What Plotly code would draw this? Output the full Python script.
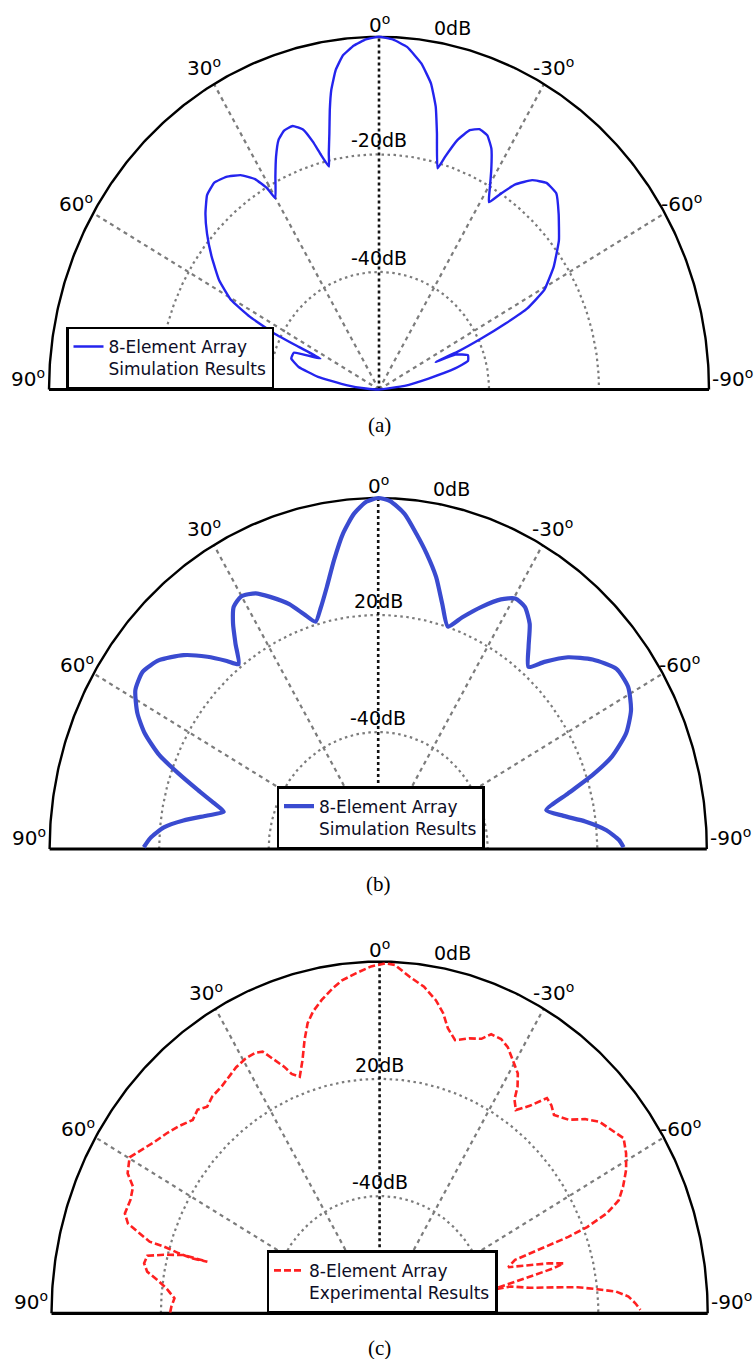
import numpy as np
import plotly.graph_objects as go

W, H = 755, 1359
DB_MIN, DB_MAX = -60, 0

# ---------------- data (angle in degrees, 0 = broadside, +90 = left) ----------------
theta_a = [90, 86, 82.8, 79, 75.3, 71.7, 68, 63.7, 63.6, 63.4, 62.2, 60.5, 57.4, 53.4, 49.7,
           46.5, 43.4, 40.4, 37.5, 34.6, 32.2, 30.7, 30.1, 27.5, 25.3, 23.3, 21.4, 19.3, 17.3,
           15.9, 14.9, 13.5, 12.8, 11.7, 10.65, 9.66, 8.25, 6.6, 4.45, 2.3, 0,
           -2.4, -5, -7.9, -10.3, -12.1, -13.6, -15.8, -16.9, -18.6, -20.5, -22.4, -24.5,
           -26.5, -28.7, -30.7, -32.1, -33.6, -35.4, -38, -40.9, -44, -47.5, -52.2, -56.7,
           -60.6, -62.9, -64, -65, -65.8, -65.6, -66.8, -70.2, -73.3, -75.5, -78.3, -82.3, -90]
db_a = [-60, -57.6, -54, -48.7, -44.9, -43.2, -43.3, -48.1, -43.7, -38.7, -33.5, -29.1, -25.5,
        -22.1, -19.0, -16.5, -14.5, -13.8, -14.4, -15.7, -17.7, -20.2, -22.4, -19.2, -16.2,
        -13.8, -12.7, -12.5, -13.7, -16.2, -18.5, -21.0, -18.8, -15.5, -11.6, -8.3, -5.1,
        -2.8, -1.3, -0.4, 0,
        -0.4, -1.5, -4.0, -7.1, -10.8, -15.2, -20.9, -18.6, -15.2, -12.9, -12.1, -12.5,
        -14.2, -17.5, -20.6, -22.4, -20.0, -17.2, -14.8, -13.5, -13.6, -15.7, -18.6, -22.0,
        -25.5, -29.7, -34.4, -39.4, -44.3, -48.7, -44.9, -42.8, -43.1, -45.7, -50.8, -55.3, -60]

theta_b = [89.6, 87.5, 84.6, 82.2, 79.6, 77.3, 75.4, 73, 70.5, 68.1, 65.1, 62.2, 58.5, 54.8,
           51.1, 47, 43.5, 40.7, 38.9, 36.6, 34.5, 32.5, 30.1, 27.1, 24.6, 21.2, 18.7, 16.4,
           14.4, 11.8, 9.3, 6.8, 4.4, 2.1, 0,
           -2.1, -4.8, -7.4, -9.9, -12.8, -15.6, -18.5, -21.2, -24.5, -27.7, -30.3, -32.9,
           -35.7, -38.5, -41.4, -43.5, -46.6, -50.4, -54.7, -58.7, -62.8, -66.4, -69.7,
           -72.1, -74.7, -77.8, -80.5, -82.9, -85.6, -88, -89.6]
db_b = [-17.2, -18.3, -20.7, -24.1, -28.3, -31.1, -29.1, -25.6, -21.3, -16.9, -13.0, -10.3,
        -8.0, -7.4, -8.6, -11.4, -14.7, -17.6, -19.4, -16.3, -13.2, -10.9, -10.1, -10.9,
        -12.6, -15.1, -17.6, -19.5, -17.6, -14.2, -10.0, -5.7, -2.5, -0.6, 0,
        -0.5, -2.5, -5.7, -8.7, -12.3, -16.5, -19.9, -17.5, -14.5, -11.8, -10.4, -10.7,
        -12.6, -15.9, -18.5, -15.9, -12.3, -9.2, -6.7, -6.6, -8.1, -10.6, -14.5, -18.9,
        -24.1, -28.6, -25.7, -21.9, -18.2, -16.0, -15.2]

theta_c = [89.8, 88.3, 86.1, 83.8, 82, 80.5, 78.8, 77, 75.8, 74.5, 74.4, 74.7, 74.4, 73.9,
           73.8, 72.7, 71.6, 69.9, 67, 64.4, 62.6, 59.8, 57.3, 54.6, 51.8, 49.1, 46, 43.8,
           41.8, 39.6, 36.7, 34.3, 32, 29.4, 27.1, 25.6, 24, 22.5, 21.5, 19.9, 18.1, 16.4,
           14.9, 13.3, 11.2, 8.8, 6.9, 4.2, 1.5, -1,
           -2.7, -5.4, -8.3, -10.9, -12.8, -14.4, -16.5, -19.3, -21.7, -23.2, -25.4, -27.3,
           -29.4, -31.7, -33.1, -34.1, -35.7, -37.8, -39.8, -41.5, -43.3, -46.3, -48.6,
           -50.9, -53.6, -56.2, -58.8, -61.5, -64.1, -66.2, -67.7, -68.8, -69.3, -69.4,
           -69.5, -69.8, -71.5, -73.3, -74.6, -75.8, -76.4, -76.7, -77.3, -78.1, -79,
           -79.2, -81, -82.1, -83, -84.1, -85.1, -86.4, -87.9, -89.3]
db_c = [-21.7, -21.9, -22.4, -20.8, -18.9, -16.9, -16.1, -16.4, -19.3, -22.8, -27.3, -24.6,
        -21.8, -19.0, -16.2, -14.1, -11.5, -10.4, -10.5, -10.0, -8.1, -7.1, -8.4, -9.5,
        -10.4, -11.3, -12.5, -11.9, -12.7, -12.0, -11.7, -11.1, -10.5, -10.1, -10.1, -10.5,
        -12.7, -14.5, -16.1, -17.1, -14.6, -11.4, -8.8, -7.1, -5.5, -3.9, -2.8, -1.8, -0.8,
        -0.3,
        -0.5, -2.3, -3.7, -5.6, -7.5, -9.8, -11.4, -10.3, -9.6, -8.2, -8.2, -8.9, -10.4,
        -11.9, -13.8, -16.0, -17.3, -15.2, -12.2, -12.6, -13.5, -12.2, -9.9, -8.2, -7.3,
        -6.3, -7.3, -8.7, -10.5, -12.2, -15.1, -19.3, -23.1, -26.9, -30.7, -33.6, -35.2,
        -31.4, -27.9, -25.3, -27.2, -29.1, -32.8, -36.5, -39.2, -35.6, -32.2, -27.8, -23.5,
        -20.0, -16.6, -14.4, -13.2, -12.3]

ring_db = [-20, -40]
ray_deg = [60, 30, -30, -60]
center_ray_deg = [0]
tick_deg = [90, 60, 30, 0, -30, -60, -90]
tick_text = ["90<sup>o</sup>", "60<sup>o</sup>", "30<sup>o</sup>", "0<sup>o</sup>",
             "-30<sup>o</sup>", "-60<sup>o</sup>", "-90<sup>o</sup>"]
top_label = "0dB"
ring_labels = [["-20dB", "-40dB"], ["20dB", "-40dB"], ["20dB", "-40dB"]]
captions = ["(a)", "(b)", "(c)"]
names = ["8-Element Array<br>Simulation Results",
         "8-Element Array<br>Simulation Results",
         "8-Element Array<br>Experimental Results"]

# ---------------- helpers ----------------
def to_xy(theta, db):
    db = np.clip(np.asarray(db, float), DB_MIN, DB_MAX)
    rho = (db - DB_MIN) / (DB_MAX - DB_MIN)
    t = np.radians(np.asarray(theta, float))
    return -rho * np.sin(t), rho * np.cos(t)

# panel geometry in pixels (center x, baseline y, x radius, y radius, band)
panels = [
    dict(cx=379.0, base=389.5, rx=330.0, ry=352.7, top=0, bot=455),
    dict(cx=378.2, base=849.0, rx=328.6, ry=351.0, top=455, bot=915),
    dict(cx=379.6, base=1313.3, rx=328.1, ry=351.7, top=915, bot=H),
]

curves = [
    (theta_a, db_a, dict(color="#2424ee", width=2.4, shape="spline", smoothing=0.35)),
    (theta_b, db_b, dict(color="#3a4bd0", width=4.2, shape="spline", smoothing=0.6)),
    (theta_c, db_c, dict(color="#ff2020", width=2.6, dash="7px,3px")),
]
legend_pos = [
    dict(x=66 / W, xanchor="left"),
    dict(x=380.5 / W, xanchor="center"),
    dict(x=382 / W, xanchor="center"),
]

GRID = "#7c7c7c"
LABEL_FONT = "DejaVu Sans, Open Sans, sans-serif"

fig = go.Figure()
layout = dict(width=W, height=H, margin=dict(l=0, r=0, t=0, b=0),
              font=dict(family=LABEL_FONT, size=18, color="black"),
              paper_bgcolor="white", plot_bgcolor="rgba(0,0,0,0)", annotations=[])

arc_t = np.linspace(90, -90, 361)

for i, p in enumerate(panels):
    k = "" if i == 0 else str(i + 1)
    xa, ya = "x" + k, "y" + k
    layout["xaxis" + k] = dict(domain=[0, 1], range=[-p["cx"] / p["rx"], (W - p["cx"]) / p["rx"]],
                               visible=False, fixedrange=True, anchor=ya)
    layout["yaxis" + k] = dict(domain=[1 - p["bot"] / H, 1 - p["top"] / H],
                               range=[-(p["bot"] - p["base"]) / p["ry"], (p["base"] - p["top"]) / p["ry"]],
                               visible=False, fixedrange=True, anchor=xa)

    # dB rings
    for rd in ring_db:
        x, y = to_xy(arc_t, np.full_like(arc_t, rd))
        fig.add_trace(go.Scatter(x=x, y=y, mode="lines", xaxis=xa, yaxis=ya, showlegend=False,
                                 hoverinfo="skip",
                                 line=dict(color=GRID, width=2.2, dash="2.5px,3.5px")))
    # angle rays
    for a in ray_deg:
        x, y = to_xy([a, a], [DB_MIN, DB_MAX])
        fig.add_trace(go.Scatter(x=x, y=y, mode="lines", xaxis=xa, yaxis=ya, showlegend=False,
                                 hoverinfo="skip",
                                 line=dict(color=GRID, width=2.2, dash="4px,4px")))
    for a in center_ray_deg:
        x, y = to_xy([a, a], [DB_MIN, DB_MAX])
        fig.add_trace(go.Scatter(x=x, y=y, mode="lines", xaxis=xa, yaxis=ya, showlegend=False,
                                 hoverinfo="skip",
                                 line=dict(color="#111111", width=2.6, dash="3px,3px")))
    # outer 0 dB boundary and baseline
    x, y = to_xy(arc_t, np.full_like(arc_t, DB_MAX))
    fig.add_trace(go.Scatter(x=x, y=y, mode="lines", xaxis=xa, yaxis=ya, showlegend=False,
                             hoverinfo="skip", line=dict(color="black", width=2.4)))
    x, y = to_xy([tick_deg[0], tick_deg[-1]], [DB_MAX, DB_MAX])
    fig.add_trace(go.Scatter(x=x, y=y, mode="lines", xaxis=xa, yaxis=ya, showlegend=False,
                             hoverinfo="skip", line=dict(color="black", width=3.2)))

    # pattern curve
    th, db, ln = curves[i]
    x, y = to_xy(th, db)
    lg = "legend" + k
    fig.add_trace(go.Scatter(x=x, y=y, mode="lines", xaxis=xa, yaxis=ya, name=names[i],
                             legend=lg, line=ln, hoverinfo="skip"))
    layout[lg] = dict(**legend_pos[i], y=1 - p["base"] / H, yanchor="bottom",
                      bgcolor="white", bordercolor="black", borderwidth=2.5,
                      font=dict(family=LABEL_FONT, size=17, color="#0d0d26"),
                      valign="top", itemwidth=30)

    # angle labels
    for a, txt in zip(tick_deg, tick_text):
        if a == 0:
            layout["annotations"].append(dict(x=0, y=1.0, xref=xa, yref=ya, text=txt, showarrow=False,
                                              xanchor="center", yanchor="bottom", yshift=-2,
                                              font=dict(family=LABEL_FONT, size=20, color="black")))
        elif abs(a) == 90:
            xx, _ = to_xy([a], [DB_MAX])
            layout["annotations"].append(dict(x=float(xx[0]), y=0, xref=xa, yref=ya, text=txt,
                                              showarrow=False,
                                              xanchor="right" if a > 0 else "left", yanchor="bottom",
                                              xshift=-2 if a > 0 else 1, yshift=-3,
                                              font=dict(family=LABEL_FONT, size=20, color="black")))
        else:
            xx, yy = to_xy([a], [DB_MAX])
            layout["annotations"].append(dict(x=float(xx[0]) * 1.06, y=float(yy[0]) * 1.055,
                                              xref=xa, yref=ya, text=txt, showarrow=False,
                                              xanchor="center", yanchor="middle",
                                              font=dict(family=LABEL_FONT, size=20, color="black")))
    # 0 dB label
    layout["annotations"].append(dict(x=0.16, y=1.0, xref=xa, yref=ya, text=top_label, showarrow=False,
                                      xanchor="left", yanchor="bottom", yshift=-4,
                                      font=dict(family=LABEL_FONT, size=19, color="black")))
    # ring labels
    for rd, txt in zip(ring_db, ring_labels[i]):
        _, yy = to_xy([0], [rd])
        layout["annotations"].append(dict(x=0, y=float(yy[0]), xref=xa, yref=ya, text=txt,
                                          showarrow=False, xanchor="center", yanchor="bottom",
                                          yshift=1,
                                          font=dict(family=LABEL_FONT, size=19, color="black")))
    # caption
    layout["annotations"].append(dict(x=0, y=0, xref=xa, yref=ya, text=captions[i], showarrow=False,
                                      xanchor="center", yanchor="top", yshift=-21,
                                      font=dict(family="Liberation Serif, Times New Roman, serif",
                                                size=21, color="black")))

fig.update_layout(**layout)
fig.write_html("out.html", config={"displayModeBar": False},
               post_script="document.body.style.margin='0px';document.body.style.overflow='hidden';")
